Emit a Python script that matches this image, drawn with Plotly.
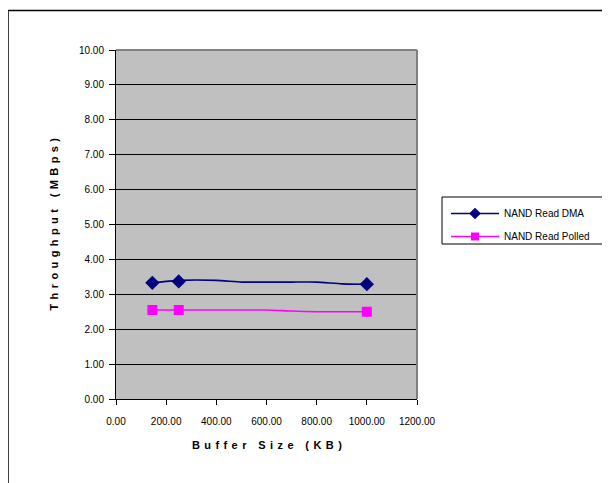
import plotly.graph_objects as go

# ---- data ----
buffer_kb = [145, 250, 400, 500, 600, 700, 800, 900, 1000]
dma_mbps = [3.33, 3.40, 3.40, 3.35, 3.35, 3.35, 3.35, 3.30, 3.29]
polled_mbps = [2.55, 2.55, 2.55, 2.55, 2.55, 2.52, 2.50, 2.50, 2.50]
marker_kb = [145, 250, 1000]
dma_marker = [3.33, 3.37, 3.29]
polled_marker = [2.55, 2.55, 2.50]
series_names = ["NAND Read DMA", "NAND Read Polled"]
x_title = "Buffer Size (KB)"
y_title = "Throughput (MBps)"

DMA_C = "#000080"
POL_C = "#FF00FF"
FONT = "Liberation Sans, Arial, sans-serif"

OFF = 8  # page body margin
W, H = 610 - OFF, 483 - OFF
# plot area in reference (window) pixels
X0, X1, Y0, Y1 = 116, 417, 50, 399
L, R, T, B = X0 - OFF, W - (X1 - OFF), Y0 - OFF, H - (Y1 - OFF)
PW, PH = W - L - R, H - T - B


def px_x(px):
    return (px - X0) / PW


def px_y(py):
    return (Y1 - py) / PH


def spaced(s, sep):
    return sep.join(list(s))


fig = go.Figure()

fig.add_trace(go.Scatter(x=buffer_kb, y=dma_mbps, mode="lines",
                         line=dict(color=DMA_C, width=1.6, shape="spline", smoothing=0.5),
                         showlegend=False, hoverinfo="skip"))
fig.add_trace(go.Scatter(x=buffer_kb, y=polled_mbps, mode="lines",
                         line=dict(color=POL_C, width=1.6, shape="spline", smoothing=0.5),
                         showlegend=False, hoverinfo="skip"))
fig.add_trace(go.Scatter(x=marker_kb, y=dma_marker, mode="markers",
                         marker=dict(symbol="diamond", size=11, color=DMA_C),
                         showlegend=False))
fig.add_trace(go.Scatter(x=marker_kb, y=polled_marker, mode="markers",
                         marker=dict(symbol="square", size=10, color=POL_C),
                         showlegend=False))
fig.add_trace(go.Scatter(x=[None], y=[None], mode="lines+markers", name=series_names[0],
                         legendgroup="a",
                         line=dict(color=DMA_C, width=1.6),
                         marker=dict(symbol="diamond", size=9, color=DMA_C)))
fig.add_trace(go.Scatter(x=[None], y=[None], mode="lines+markers", name=series_names[1],
                         legendgroup="b",
                         line=dict(color=POL_C, width=1.6),
                         marker=dict(symbol="square", size=8, color=POL_C)))

shapes = [
    dict(type="line", xref="paper", yref="paper", x0=0, x1=1, y0=1, y1=1,
         line=dict(color="#808080", width=2), layer="above"),
    dict(type="line", xref="paper", yref="paper", x0=1, x1=1, y0=0, y1=1,
         line=dict(color="#808080", width=2), layer="above"),
    dict(type="line", xref="paper", yref="paper", x0=px_x(8), x1=px_x(640),
         y0=px_y(10.5), y1=px_y(10.5), line=dict(color="#000000", width=1.5)),
    dict(type="line", xref="paper", yref="paper", x0=px_x(8), x1=px_x(8),
         y0=px_y(10.5), y1=px_y(520), line=dict(color="#000000", width=1.5)),
    dict(type="rect", xref="paper", yref="paper", x0=px_x(442), x1=px_x(608),
         y0=px_y(244), y1=px_y(197), line=dict(color="#000000", width=1),
         fillcolor="white", layer="below"),
]

annotations = [
    dict(text=spaced(x_title, "\u2009\u2009"), xref="paper", yref="paper", x=0.5, y=px_y(445),
         showarrow=False, xanchor="center", yanchor="middle",
         font=dict(family=FONT, size=11, color="black", weight="bold")),
    dict(text=spaced(y_title, "\u2009\u2009"), xref="paper", yref="paper", x=px_x(53), y=0.5,
         showarrow=False, xanchor="center", yanchor="middle", textangle=-90,
         font=dict(family=FONT, size=11, color="black", weight="bold")),
]

fig.update_layout(
    width=W, height=H,
    margin=dict(l=L, r=R, t=T, b=B),
    paper_bgcolor="white",
    plot_bgcolor="#C0C0C0",
    font=dict(family=FONT, size=10, color="black"),
    shapes=shapes,
    annotations=annotations,
    legend=dict(x=px_x(446), y=px_y(199), xanchor="left", yanchor="top",
                bgcolor="rgba(0,0,0,0)", borderwidth=0,
                font=dict(family=FONT, size=10, color="black"),
                tracegroupgap=4, itemwidth=48),
    xaxis=dict(range=[0, 1200], dtick=200, tick0=0, tickformat=".2f",
               showgrid=False, zeroline=False, showline=True, linecolor="black",
               linewidth=1, ticks="outside", ticklen=5, tickcolor="black",
               ticklabelstandoff=8,
               tickfont=dict(family=FONT, size=10, color="black"), fixedrange=True),
    yaxis=dict(range=[0, 10], dtick=1, tick0=0, tickformat=".2f",
               showgrid=True, gridcolor="black", gridwidth=1, zeroline=False,
               showline=True, linecolor="black", linewidth=1, ticks="outside",
               ticklen=6, tickcolor="black", ticklabelstandoff=3,
               tickfont=dict(family=FONT, size=10, color="black"), fixedrange=True),
)

fig.write_html("out.html")
